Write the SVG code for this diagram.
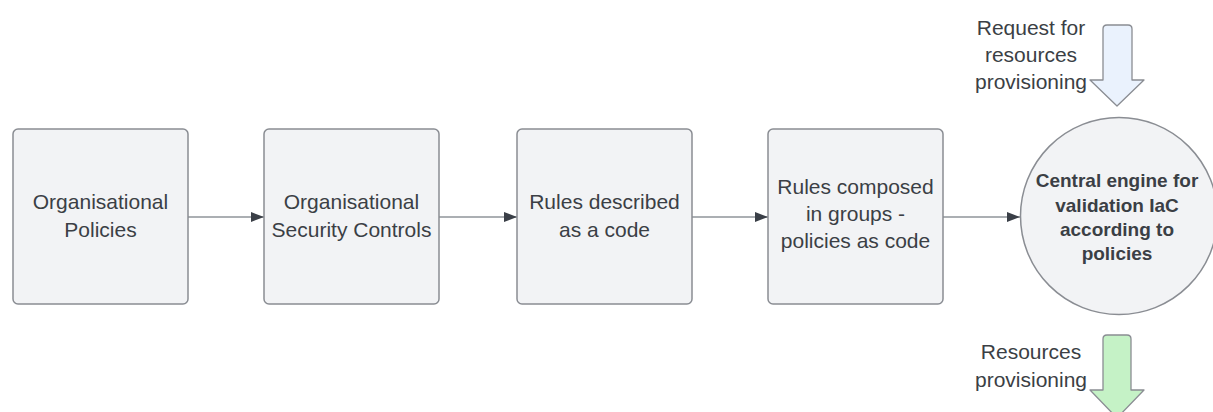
<svg xmlns="http://www.w3.org/2000/svg" width="1213" height="412" viewBox="0 0 1213 412">
<style>
.box{fill:#f2f3f5;stroke:#8a8d93;stroke-width:1.5}
.t{font-family:"Liberation Sans",Arial,sans-serif;font-size:21px;fill:#3b3f45;text-anchor:middle}
.b{font-family:"Liberation Sans",Arial,sans-serif;font-size:19px;font-weight:bold;fill:#3b3f45;text-anchor:middle}
.c{stroke:#8f949a;stroke-width:1.5;fill:none}
.blk{stroke:#8a8d93;stroke-width:1.3;stroke-linejoin:round}
</style>
<defs>
<marker id="ah" markerWidth="13" markerHeight="10" refX="13" refY="5" orient="auto" markerUnits="userSpaceOnUse">
<path d="M0,0 L13,5 L0,10 z" fill="#3a3f47"/>
</marker>
</defs>
<rect width="1213" height="412" fill="#ffffff"/>
<g id="connectors">
<line class="c" x1="188" y1="217" x2="264" y2="217" marker-end="url(#ah)"/>
<line class="c" x1="439" y1="217" x2="517" y2="217" marker-end="url(#ah)"/>
<line class="c" x1="692" y1="217" x2="768" y2="217" marker-end="url(#ah)"/>
<line class="c" x1="943" y1="217" x2="1020" y2="217" marker-end="url(#ah)"/>
</g>
<g id="node1">
<rect class="box" x="13" y="129" width="175" height="175" rx="5"/>
<text class="t" x="100.5" y="209">Organisational</text>
<text class="t" x="100.5" y="237">Policies</text>
</g>
<g id="node2">
<rect class="box" x="264" y="129" width="175" height="175" rx="5"/>
<text class="t" x="351.5" y="209">Organisational</text>
<text class="t" x="351.5" y="237">Security Controls</text>
</g>
<g id="node3">
<rect class="box" x="517" y="129" width="175" height="175" rx="5"/>
<text class="t" x="604.5" y="209">Rules described</text>
<text class="t" x="604.5" y="237">as a code</text>
</g>
<g id="node4">
<rect class="box" x="768" y="129" width="175" height="175" rx="5"/>
<text class="t" x="855.5" y="194">Rules composed</text>
<text class="t" x="855.5" y="221">in groups -</text>
<text class="t" x="855.5" y="248">policies as code</text>
</g>
<g id="engine">
<circle cx="1119" cy="216" r="98.5" fill="#f2f3f5" stroke="#8a8d93" stroke-width="1.5"/>
<text class="b" x="1117" y="187">Central engine for</text>
<text class="b" x="1117" y="211.5">validation IaC</text>
<text class="b" x="1117" y="236">according to</text>
<text class="b" x="1117" y="260">policies</text>
</g>
<g id="request">
<path class="blk" fill="#eaf2fd" d="M1103,29 Q1103,25 1107,25 L1128,25 Q1132,25 1132,29 L1132,80 L1144,80 L1117,106 L1090,80 L1103,80 Z"/>
<text class="t" x="1031" y="35">Request for</text>
<text class="t" x="1031" y="62">resources</text>
<text class="t" x="1031" y="89">provisioning</text>
</g>
<g id="provision">
<path class="blk" fill="#c5f2c6" d="M1103,339 Q1103,335 1107,335 L1127,335 Q1131,335 1131,339 L1131,390 L1144,390 L1117,418 L1090,390 L1103,390 Z"/>
<text class="t" x="1031" y="359">Resources</text>
<text class="t" x="1031" y="387">provisioning</text>
</g>
</svg>
